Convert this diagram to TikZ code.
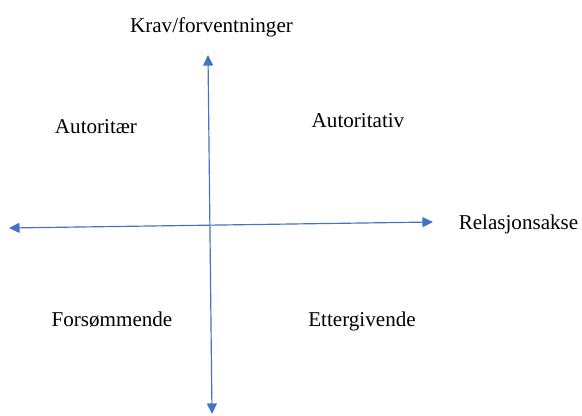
\documentclass[tikz,border=0pt]{standalone}
\usepackage{fontspec}
\setmainfont{Liberation Serif}
\usepackage{xcolor}
\definecolor{axisblue}{RGB}{68,114,196}
\usetikzlibrary{arrows.meta}

\begin{document}
\begin{tikzpicture}[x=0.03cm, y=-0.03cm, every node/.style={font=\fontsize{18}{21}\selectfont, inner sep=0pt, anchor=base},
  axisline/.style={axisblue, line width=1pt, {Triangle[length=9pt,width=8.5pt]}-{Triangle[length=9pt,width=8.5pt]}}]
  \useasboundingbox (0,0) rectangle (582,416);
  % axis ends
  \coordinate (top) at (208,55);
  \coordinate (bot) at (212,414);
  \coordinate (lft) at (9,228);
  \coordinate (rgt) at (433,222);
  \draw[axisline] (top) -- (bot);
  \draw[axisline] (lft) -- (rgt);
  % labels
  \node (krav) at (211.5,32) {Krav/forventninger};
  \node (rel) at (518.5,229) {Relasjonsakse};
  \node (autor) at (96,133) {Autoritær};
  \node (autat) at (358,127) {Autoritativ};
  \node (fors) at (112,326) {Forsømmende};
  \node (etter) at (362,326) {Ettergivende};
\end{tikzpicture}
\end{document}
